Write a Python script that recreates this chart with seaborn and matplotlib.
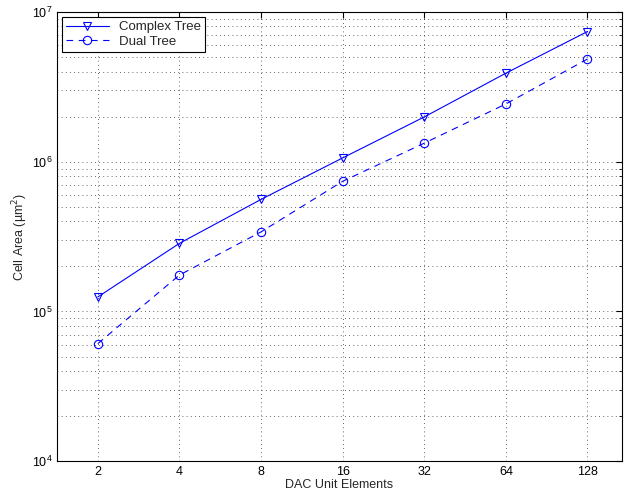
import numpy as np
import pandas as pd
import seaborn as sns
import matplotlib.pyplot as plt
from matplotlib.ticker import LogLocator, NullFormatter

# Values
elements = [2, 4, 8, 16, 32, 64, 128]
complex_tree = [1.25e5, 2.85e5, 5.6e5, 1.06e6, 1.99e6, 3.9e6, 7.4e6]
dual_tree = [6.1e4, 1.75e5, 3.4e5, 7.4e5, 1.33e6, 2.43e6, 4.85e6]

sns.set_style('white')
plt.rcParams['font.family'] = ['Liberation Sans', 'DejaVu Sans']

pos = np.arange(1, len(elements) + 1)
df_c = pd.DataFrame({'pos': pos, 'area': complex_tree})
df_d = pd.DataFrame({'pos': pos, 'area': dual_tree})

fig = plt.figure(figsize=(6.41, 4.97), dpi=100)
ax = fig.add_axes([0.089, 0.072, 0.881, 0.904])

sns.lineplot(data=df_c, x='pos', y='area', ax=ax, color='blue', linewidth=0.8,
             marker='v', markersize=6, markerfacecolor='none',
             markeredgecolor='blue', markeredgewidth=0.8, label='Complex Tree')
sns.lineplot(data=df_d, x='pos', y='area', ax=ax, color='blue', linewidth=0.8,
             linestyle=(0, (6, 5)), marker='o', markersize=6, markerfacecolor='none',
             markeredgecolor='blue', markeredgewidth=0.8, label='Dual Tree')

ax.set_yscale('log')
ax.set_ylim(1e4, 1e7)
ax.set_xlim(0.5, 7.42)
ax.set_xticks(pos)
ax.set_xticklabels([str(e) for e in elements])
ax.yaxis.set_major_locator(LogLocator(base=10, numticks=10))
ax.yaxis.set_minor_locator(LogLocator(base=10, subs=np.arange(2, 10), numticks=20))
ax.yaxis.set_minor_formatter(NullFormatter())

grid_style = dict(color='black', linestyle=(0, (1, 4)), linewidth=0.6, alpha=0.8)
ax.grid(True, which='major', axis='both', **grid_style)
ax.grid(True, which='minor', axis='y', **grid_style)

ax.tick_params(axis='both', which='both', direction='in', top=True, right=True,
               labelsize=9, colors='black')
ax.tick_params(which='major', length=4, width=0.8)
ax.tick_params(which='minor', length=2, width=0.6)
for s in ax.spines.values():
    s.set_color('black')
    s.set_linewidth(0.8)

ax.set_xlabel('DAC Unit Elements', fontsize=9, labelpad=1)
ax.set_ylabel('Cell Area (µm$^2$)', fontsize=9, labelpad=1)

leg = ax.legend(loc='upper left', fontsize=9.5, frameon=True, fancybox=False,
                edgecolor='black', framealpha=1, borderpad=0.3,
                handlelength=3.2, labelspacing=0.15, borderaxespad=0.4)
leg.get_frame().set_linewidth(0.8)

fig.savefig('out.png', dpi=100)
